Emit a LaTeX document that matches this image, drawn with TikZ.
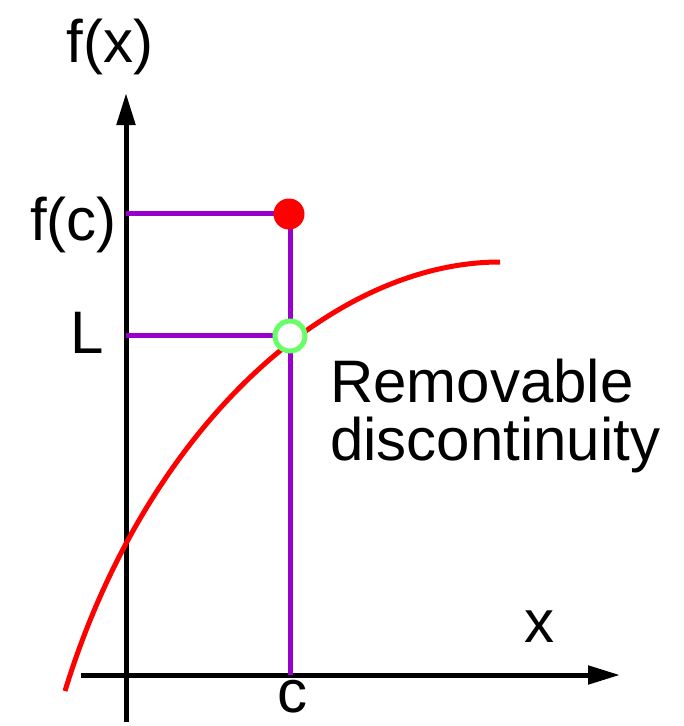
\documentclass[tikz,border=0pt]{standalone}
\usepackage{fontspec}
\setmainfont{Liberation Sans}
\usetikzlibrary{arrows.meta}

\definecolor{guidepurple}{RGB}{153,0,204}
\definecolor{holegreen}{RGB}{102,255,102}

\begin{document}
\begin{tikzpicture}[
    x=1pt,
    y=-1pt,
    axisline/.style={
        line width=5pt,
        -{Triangle[length=32pt,width=18pt]}
    },
    guide/.style={line width=5pt, draw=guidepurple},
    fcurve/.style={line width=5pt, draw=red},
    plotlabel/.style={
        font=\fontsize{60}{72}\selectfont,
        inner sep=0pt,
        anchor=base
    }
]
    \useasboundingbox (0,0) rectangle (684,726);

    % Axis end points
    \coordinate (ybot) at (126,722);
    \coordinate (ytop) at (126,93);
    \coordinate (xbeg) at (81,675);
    \coordinate (xend) at (620,675);

    % Axes
    \draw[axisline] (ybot) -- (ytop);
    \draw[axisline] (xbeg) -- (xend);

    % Guide lines for f(c), L and c
    \coordinate (fcaxis) at (126,213);
    \coordinate (Laxis) at (126,335);
    \coordinate (fcpt) at (290,213);
    \coordinate (Lpt) at (290,336);
    \coordinate (cfoot) at (290,675);

    \draw[guide] (fcaxis) -- (fcpt) -- (cfoot);
    \draw[guide] (Laxis) -- (Laxis -| Lpt);

    % The function
    \coordinate (cstart) at (65,691);
    \coordinate (cend) at (500,262);
    \draw[fcurve] (cstart) .. controls (145,430) and (330,262) .. (cend);

    % Point and hole
    \node[circle, fill=red, inner sep=0pt, minimum size=31pt] (fcdot) at (289,214) {};
    \node[circle, draw=holegreen, fill=white, line width=5pt,
          inner sep=0pt, minimum size=30pt] (hole) at (Lpt) {};

    % Labels
    \node[plotlabel] (fxlab) at (110,62) {f(x)};
    \node[plotlabel, anchor=base east] (fclab) at (117,240) {f(c)};
    \node[plotlabel, anchor=base east] (Llab) at (104,353) {L};
    \node[plotlabel] (xlab) at (539,642) {x};
    \node[plotlabel] (clab) at (292,712) {c};
    \node[plotlabel, anchor=base west] (remlab) at (330,402) {Removable};
    \node[plotlabel, anchor=base west] (dislab) at (330,460) {discontinuity};
\end{tikzpicture}
\end{document}
